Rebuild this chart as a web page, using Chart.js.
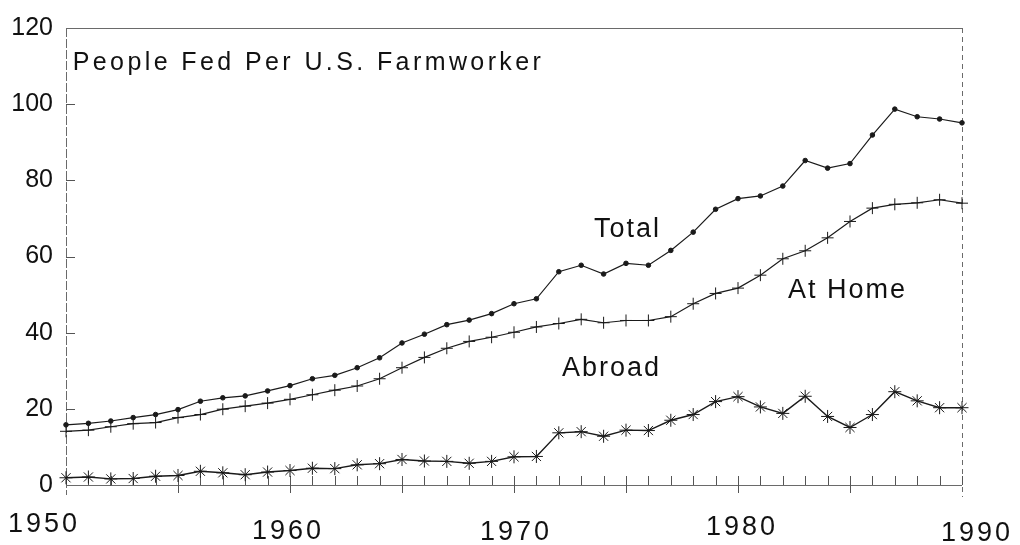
<!DOCTYPE html>
<html>
<head>
<meta charset="utf-8">
<script src="https://cdn.jsdelivr.net/npm/chart.js@4.4.1/dist/chart.umd.min.js"></script>
<style>
    body { margin: 0; background: #ffffff; }
    #grafico { display: block; }
</style>
</head>
<body>
<canvas id="grafico" width="1020" height="545"></canvas>
<script>
// datos (personas alimentadas por trabajador agricola)
const years = [1950, 1951, 1952, 1953, 1954, 1955, 1956, 1957, 1958, 1959,
               1960, 1961, 1962, 1963, 1964, 1965, 1966, 1967, 1968, 1969,
               1970, 1971, 1972, 1973, 1974, 1975, 1976, 1977, 1978, 1979,
               1980, 1981, 1982, 1983, 1984, 1985, 1986, 1987, 1988, 1989, 1990];

const total = [15.8, 16.2, 16.8, 17.7, 18.5, 19.8, 22.0, 22.9, 23.4, 24.7,
               26.1, 27.9, 28.8, 30.8, 33.4, 37.3, 39.6, 42.1, 43.3, 45.0,
               47.6, 48.9, 56.0, 57.7, 55.4, 58.2, 57.7, 61.6, 66.4, 72.4,
               75.2, 75.9, 78.5, 85.2, 83.2, 84.4, 91.9, 98.7, 96.7, 96.1, 95.1];

const atHome = [14.1, 14.4, 15.3, 16.1, 16.4, 17.7, 18.5, 19.9, 20.7, 21.5,
                22.5, 23.7, 24.9, 26.0, 27.9, 30.8, 33.5, 35.9, 37.7, 38.8,
                40.1, 41.5, 42.4, 43.5, 42.6, 43.2, 43.2, 44.2, 47.6, 50.3,
                51.7, 55.1, 59.4, 61.5, 64.9, 69.2, 72.7, 73.7, 74.1, 74.9, 74.0];

const abroad = [1.9, 2.1, 1.6, 1.7, 2.3, 2.5, 3.6, 3.2, 2.7, 3.4,
                3.8, 4.4, 4.3, 5.3, 5.6, 6.7, 6.3, 6.2, 5.7, 6.2,
                7.4, 7.5, 13.7, 14.0, 12.8, 14.4, 14.3, 17.0, 18.5, 21.9,
                23.2, 20.5, 18.8, 23.3, 18.0, 15.1, 18.5, 24.5, 22.1, 20.3, 20.3];

const xTickLabels = ['1950', '1960', '1970', '1980', '1990'];
const yTickValues = [20, 40, 60, 80, 100];

const titleText = 'People Fed Per U.S. Farmworker';
const noteTexts = ['Total', 'At Home', 'Abroad'];
const noteYears = [1973.57, 1982.23, 1972.14];
const noteValues = [65.1, 49.2, 28.7];

// desplazamientos de las etiquetas del eje x (como en el original escaneado)
const xLabelDx = [-22, -2, 2, 4, 15];
const xLabelBase = [532, 539, 540, 535, 541];

const FONT = '"Liberation Sans", Arial, Helvetica, sans-serif';
const INK = '#1a1a1a';
const AXIS = '#6a6a6a';

function toPoints(values) {
    return values.map((v, i) => ({ x: years[i], y: v }));
}

// dibuja marco, marcas y textos usando las escalas de Chart.js
const marcoPlugin = {
    id: 'marco',
    beforeDatasetsDraw(chart) {
        const ctx = chart.ctx;
        const xs = chart.scales.x;
        const ys = chart.scales.y;
        const left = xs.getPixelForValue(1950);
        const right = xs.getPixelForValue(1990);
        const top = ys.getPixelForValue(120);
        const bottom = ys.getPixelForValue(0);

        ctx.save();
        ctx.strokeStyle = AXIS;
        ctx.lineWidth = 1;

        // eje inferior y superior
        ctx.beginPath();
        ctx.moveTo(left, bottom + 0.5);
        ctx.lineTo(right, bottom + 0.5);
        ctx.moveTo(left, top + 0.5);
        ctx.lineTo(right, top + 0.5);
        ctx.stroke();

        // eje izquierdo
        ctx.beginPath();
        ctx.setLineDash([9, 2]);
        ctx.moveTo(left + 0.5, top);
        ctx.lineTo(left + 0.5, bottom + 10);
        ctx.stroke();

        // borde derecho discontinuo
        ctx.setLineDash([5, 4]);
        ctx.beginPath();
        ctx.moveTo(right + 0.5, top);
        ctx.lineTo(right + 0.5, bottom + 12);
        ctx.stroke();
        ctx.setLineDash([]);

        // marcas de cada anio hacia arriba, cada 5 anios tambien hacia abajo
        ctx.strokeStyle = '#555';
        ctx.beginPath();
        years.forEach((yr, i) => {
            const px = Math.round(xs.getPixelForValue(yr)) + 0.5;
            ctx.moveTo(px, bottom);
            ctx.lineTo(px, bottom - 9);
            if (i % 5 === 0 && i > 0 && i < years.length - 1) {
                ctx.moveTo(px, bottom);
                ctx.lineTo(px, bottom + 8);
            }
        });
        // marcas del eje y hacia dentro
        yTickValues.forEach(v => {
            const py = Math.round(ys.getPixelForValue(v)) + 0.5;
            ctx.moveTo(left, py);
            ctx.lineTo(left + 9, py);
        });
        ctx.stroke();
        ctx.restore();
    },
    afterDraw(chart) {
        const ctx = chart.ctx;
        const xs = chart.scales.x;
        const ys = chart.scales.y;

        ctx.save();
        ctx.fillStyle = '#111';

        // etiquetas del eje x
        ctx.font = '27px ' + FONT;
        ctx.letterSpacing = '3px';
        ctx.textAlign = 'center';
        ctx.textBaseline = 'alphabetic';
        xTickLabels.forEach((lab, i) => {
            const px = xs.getPixelForValue(Number(lab));
            ctx.fillText(lab, px + xLabelDx[i], xLabelBase[i]);
        });

        // titulo
        ctx.textAlign = 'left';
        ctx.font = '25px ' + FONT;
        ctx.letterSpacing = '3.4px';
        ctx.fillText(titleText, xs.getPixelForValue(1950.3), ys.getPixelForValue(109));

        // nombres de las series
        ctx.font = '27px ' + FONT;
        ctx.letterSpacing = '2px';
        noteTexts.forEach((txt, i) => {
            ctx.fillText(txt, xs.getPixelForValue(noteYears[i]), ys.getPixelForValue(noteValues[i]));
        });
        ctx.restore();
    }
};

const lineBase = {
    borderColor: INK,
    backgroundColor: INK,
    borderWidth: 1.2,
    pointBorderColor: INK,
    pointBorderWidth: 1,
    tension: 0,
    clip: false
};

new Chart(document.getElementById('grafico').getContext('2d'), {
    type: 'line',
    data: {
        datasets: [
            Object.assign({}, lineBase, {
                label: 'Total',
                data: toPoints(total),
                pointStyle: 'circle',
                pointRadius: 2.3,
                pointBackgroundColor: INK
            }),
            Object.assign({}, lineBase, {
                label: 'At Home',
                data: toPoints(atHome),
                pointStyle: 'cross',
                pointRadius: 6
            }),
            Object.assign({}, lineBase, {
                label: 'Abroad',
                data: toPoints(abroad),
                pointStyle: 'star',
                pointRadius: 6.5,
                borderWidth: 1.4
            })
        ]
    },
    options: {
        responsive: false,
        animation: false,
        devicePixelRatio: 1,
        layout: { padding: { top: 17, right: 58, left: 0, bottom: 0 } },
        plugins: {
            legend: { display: false },
            tooltip: { enabled: false }
        },
        scales: {
            x: {
                type: 'linear',
                min: 1950,
                max: 1990,
                ticks: { display: false },
                grid: { display: false },
                border: { display: false },
                afterFit(scale) { scale.height = 60; }
            },
            y: {
                min: 0,
                max: 120,
                ticks: {
                    stepSize: 20,
                    padding: 13,
                    color: '#111',
                    font: { family: FONT, size: 25 }
                },
                grid: { display: false, drawTicks: false },
                border: { display: false },
                afterFit(scale) { scale.width = 66; }
            }
        }
    },
    plugins: [marcoPlugin]
});
</script>
</body>
</html>
